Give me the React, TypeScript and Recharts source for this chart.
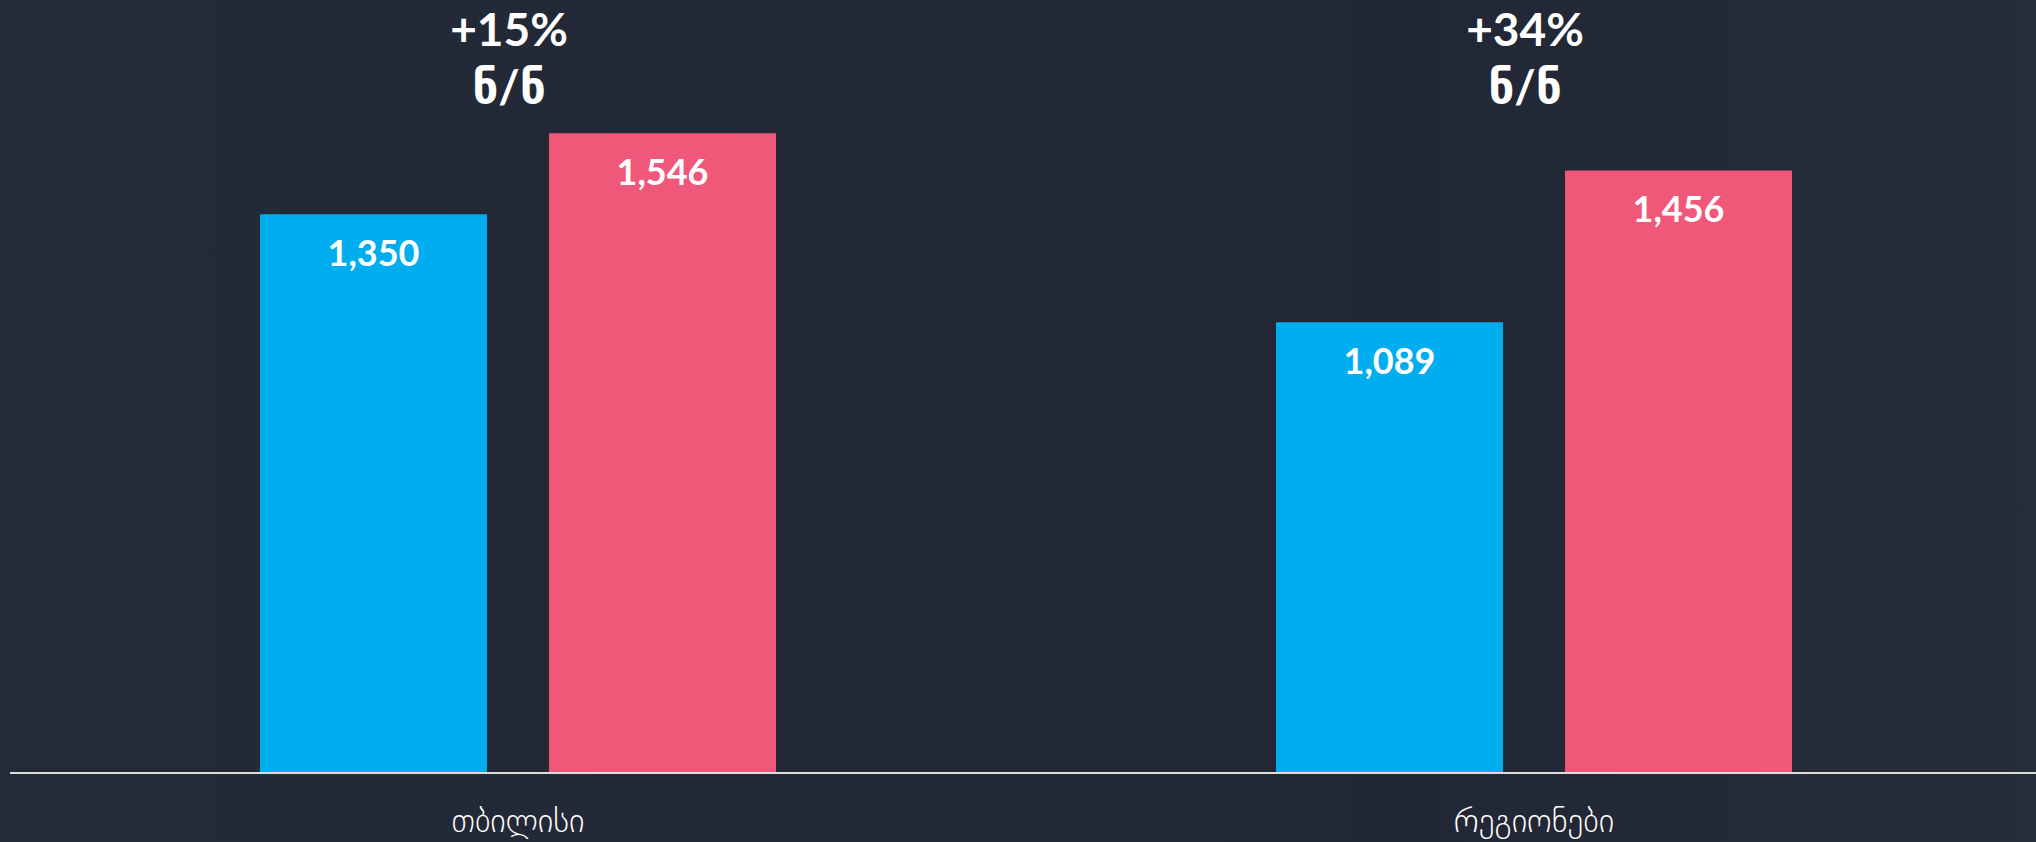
import { BarChart, Bar, XAxis, YAxis, LabelList } from 'recharts';

const regions = ['თბილისი', 'რეგიონები'];
const before = [1350, 1089];
const after = [1546, 1456];
const growth = ['+15%', '+34%'];
const growthUnit = ['ნ/ნ', 'ნ/ნ'];

const data = regions.map((name, i) => ({
  name,
  before: before[i],
  after: after[i],
  growth: growth[i],
}));

const NUM_FONT = "Lato, 'DejaVu Sans', sans-serif";

function ValueLabel(props: any) {
  const { x, y, width, value } = props;
  return (
    <text
      x={x + width / 2}
      y={y + 52}
      textAnchor="middle"
      fill="#ffffff"
      fontFamily={NUM_FONT}
      fontWeight={700}
      fontSize={36}
    >
      {Number(value).toLocaleString('en-US')}
    </text>
  );
}

function GrowthLabel(props: any) {
  const { x, index } = props;
  const cx = x - 40;
  return (
    <g>
      <text x={cx} y={46} textAnchor="middle" fill="#ffffff" fontFamily={NUM_FONT} fontWeight={700} fontSize={46}>
        {growth[index]}
      </text>
      <text x={cx} y={103} textAnchor="middle" fill="#ffffff" fontFamily={NUM_FONT} fontWeight={700} fontSize={46}>
        {growthUnit[index]}
      </text>
    </g>
  );
}

function RegionTick(props: any) {
  const { x, payload } = props;
  return (
    <text
      x={x}
      y={832}
      textAnchor="middle"
      fill="#ffffff"
      fontFamily="'DejaVu Sans', sans-serif"
      fontWeight={300}
      fontSize={33}
    >
      {payload.value}
    </text>
  );
}

export default function App() {
  return (
    <div
      style={{
        position: 'absolute',
        top: 0,
        left: 0,
        width: 2036,
        height: 842,
        overflow: 'hidden',
        background: 'linear-gradient(90deg, #232a38 0%, #222836 40%, #212735 70%, #252c3a 100%)',
      }}
    >
      <BarChart
        width={2042}
        height={842}
        data={data}
        margin={{ top: 28, right: 0, bottom: 0, left: 10 }}
        barSize={227}
        barGap={62}
      >
        <YAxis hide domain={[0, 1800]} />
        <XAxis
          dataKey="name"
          height={69}
          axisLine={{ stroke: '#dcdcdc', strokeWidth: 2 }}
          tickLine={false}
          tick={<RegionTick />}
          interval={0}
        />
        <Bar dataKey="before" fill="#00AEEF" isAnimationActive={false}>
          <LabelList dataKey="before" content={<ValueLabel />} />
        </Bar>
        <Bar dataKey="after" fill="#F0587A" isAnimationActive={false}>
          <LabelList dataKey="after" content={<ValueLabel />} />
          <LabelList dataKey="growth" content={<GrowthLabel />} />
        </Bar>
      </BarChart>
    </div>
  );
}
